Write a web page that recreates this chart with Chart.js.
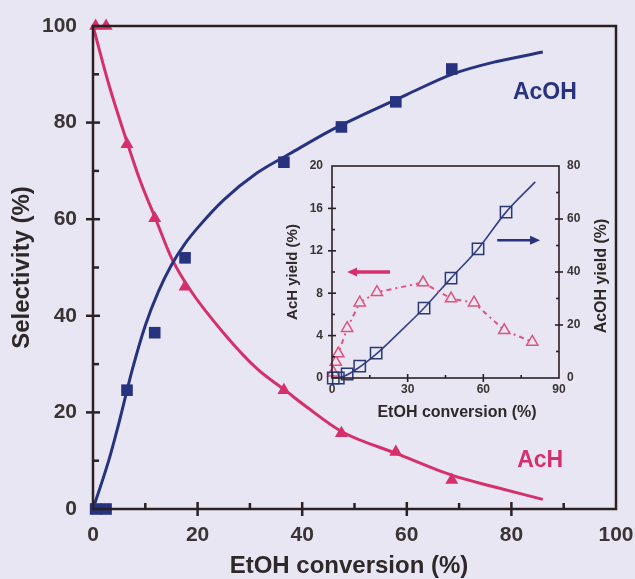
<!DOCTYPE html>
<html>
<head>
<meta charset="utf-8">
<script src="https://cdn.jsdelivr.net/npm/chart.js@4.4.0/dist/chart.umd.min.js"></script>
<style>
  html, body { margin: 0; padding: 0; background: #e7e6f2; }
  #wrap { position: relative; width: 635px; height: 579px; overflow: hidden; }
  #main { position: absolute; left: 0; top: 0; }
  #inset { position: absolute; left: 280px; top: 155px; }
</style>
</head>
<body>
<div id="wrap">
  <canvas id="main" width="635" height="579"></canvas>
  <canvas id="inset" width="340" height="270"></canvas>
</div>
<script>
/* ── Selectivity vs EtOH conversion, with yield inset ── */

// main plot: measured points
const mainConv = [0.5, 2.5, 6.5, 11.8, 17.6, 36.5, 47.5, 57.9, 68.6];
const acohSel  = [0, 0, 24.6, 36.5, 52.0, 71.8, 79.1, 84.3, 91.1];
const achSel   = [100, 100, 75.5, 60.2, 46.0, 24.6, 15.7, 11.8, 6.0];

// main plot: fitted curves as drawn
const acohFitX = [0, 3, 5, 7.5, 10, 12.5, 15, 17.5, 20, 25, 31.4, 37.7, 45.3, 52.4, 60, 68.6, 77, 86];
const acohFitY = [0, 10, 18, 28.8, 38, 45, 50.5, 54.8, 58.2, 64, 69.6, 73.6, 78.3, 82, 85.8, 90, 92.6, 94.6];
const achFitX  = [0, 3, 6.5, 9, 12, 15, 18.5, 25, 31.4, 36.7, 41, 47.6, 58, 68.6, 77, 86];
const achFitY  = [100, 88, 76, 68, 60, 52, 45.5, 36.4, 29, 24.6, 21, 16, 11.5, 7, 4.5, 2];

const mainXTicks = [0, 20, 40, 60, 80, 100];
const mainYTicks = [0, 20, 40, 60, 80, 100];

// inset: yields
const insetConv    = [0.5, 2.5, 6, 11, 17.5, 36.5, 47.2, 57.9, 69];
const insetAcoh    = [0, 0, 1.5, 4.5, 9.4, 26.4, 37.7, 48.7, 62.6];
const acohYieldFitX = [0, 5, 10, 17.5, 27, 36.5, 47.2, 57.9, 69, 80.6];
const acohYieldFitY = [0, 0.8, 3.5, 9, 17.5, 26.4, 37.7, 48.7, 62.6, 74];
const insetAchConv = [0.5, 1.5, 2.5, 6, 11, 17.8, 36.1, 47.2, 56.3, 68.3, 79.4];
const insetAch     = [0.5, 1.5, 2.3, 4.7, 7.1, 8.1, 9.0, 7.5, 7.1, 4.5, 3.4];

const insetXTicks  = [0, 30, 60, 90];
const insetYTicks  = [0, 4, 8, 12, 16, 20];
const insetY2Ticks = [0, 20, 40, 60, 80];

const NAVY = '#27337e';
const PINK = '#d6306c';
const PINK_LIGHT = '#e0527f';
const AXIS = '#2b2124';
const LABEL = '#3a3435';
const BG = '#e7e6f2';
const FONT = "'Liberation Sans', Arial, sans-serif";

const pts = (xs, ys) => xs.map((x, i) => ({ x, y: ys[i] }));
const fixTicks = list => s => { s.ticks = list.map(v => ({ value: v })); };
const fitW = w => s => { s.width = w; s.paddingTop = 0; s.paddingBottom = 0; };
const fitH = h => s => { s.height = h; s.paddingLeft = 0; s.paddingRight = 0; };

// box + crossing ticks, drawn from the scales
const frame = {
  id: 'frame',
  afterDraw(chart, _a, o) {
    const { ctx, chartArea: a, scales } = chart;
    ctx.save();
    ctx.strokeStyle = AXIS;
    ctx.lineWidth = o.width;
    ctx.strokeRect(a.left, a.top, a.right - a.left, a.bottom - a.top);
    o.axes.forEach(ax => {
      const s = scales[ax.id];
      const draw = (v, out, inn) => {
        const p = s.getPixelForValue(v);
        ctx.beginPath();
        if (ax.side === 'left')  { ctx.moveTo(a.left - out, p);  ctx.lineTo(a.left + inn, p); }
        if (ax.side === 'right') { ctx.moveTo(a.right - inn, p); ctx.lineTo(a.right + out, p); }
        if (ax.side === 'bottom'){ ctx.moveTo(p, a.bottom - inn); ctx.lineTo(p, a.bottom + out); }
        ctx.stroke();
      };
      ax.major.forEach(v => draw(v, o.out, o.inn));
      ax.minor.forEach(v => draw(v, 0, o.minor));
    });
    ctx.restore();
  }
};

// free text: data-anchored labels, or pixel-anchored titles
const words = {
  id: 'words',
  afterDraw(chart, _a, o) {
    const { ctx, scales } = chart;
    ctx.save();
    o.items.forEach(t => {
      ctx.fillStyle = t.color;
      ctx.font = t.font;
      ctx.textAlign = 'center';
      ctx.textBaseline = 'middle';
      if (t.px) {
        ctx.translate(t.px[0], t.px[1]);
        if (t.rot) ctx.rotate(-Math.PI / 2);
        ctx.fillText(t.text, 0, 0);
        ctx.setTransform(1, 0, 0, 1, 0, 0);
      } else {
        ctx.fillText(t.text, scales.x.getPixelForValue(t.x), scales[t.yId || 'y'].getPixelForValue(t.y));
      }
    });
    ctx.restore();
  }
};

const arrows = {
  id: 'arrows',
  afterDraw(chart, _a, o) {
    const { ctx, scales } = chart;
    ctx.save();
    o.items.forEach(ar => {
      const ys = scales[ar.yId];
      const x0 = scales.x.getPixelForValue(ar.from), x1 = scales.x.getPixelForValue(ar.to);
      const y = ys.getPixelForValue(ar.y);
      const dir = Math.sign(x1 - x0);
      ctx.strokeStyle = ar.color;
      ctx.fillStyle = ar.color;
      ctx.lineWidth = ar.width;
      ctx.beginPath();
      ctx.moveTo(x0, y);
      ctx.lineTo(x1 - dir * 8, y);
      ctx.stroke();
      ctx.beginPath();
      ctx.moveTo(x1, y);
      ctx.lineTo(x1 - dir * 10, y - 4.5);
      ctx.lineTo(x1 - dir * 10, y + 4.5);
      ctx.closePath();
      ctx.fill();
    });
    ctx.restore();
  }
};

new Chart(document.getElementById('main'), {
  type: 'scatter',
  data: {
    datasets: [
      { data: pts(mainConv, acohSel), pointStyle: 'rect', pointRadius: 8.2,
        backgroundColor: NAVY, borderColor: NAVY, borderWidth: 0, clip: false },
      { data: pts(mainConv, achSel), pointStyle: 'triangle', pointRadius: 7.5,
        backgroundColor: PINK, borderColor: PINK, borderWidth: 0, clip: false },
      { data: pts(acohFitX, acohFitY), showLine: true, pointRadius: 0,
        borderColor: NAVY, borderWidth: 3, cubicInterpolationMode: 'monotone', clip: false },
      { data: pts(achFitX, achFitY), showLine: true, pointRadius: 0,
        borderColor: PINK, borderWidth: 3, cubicInterpolationMode: 'monotone', clip: false },
    ],
  },
  options: {
    responsive: false,
    animation: false,
    events: [],
    layout: { padding: { top: 26, right: 19, left: 0, bottom: 0 } },
    plugins: {
      legend: { display: false },
      tooltip: { enabled: false },
      frame: {
        width: 2.5, out: 7, inn: 7, minor: 6,
        axes: [
          { id: 'x', side: 'bottom', major: [20, 40, 60, 80], minor: [10, 30, 50, 70, 90] },
          { id: 'y', side: 'left', major: [20, 40, 60, 80], minor: [10, 30, 50, 70, 90] },
        ],
      },
      words: {
        items: [
          { text: 'AcOH', x: 86.4, y: 86.3, color: NAVY, font: `bold 23px ${FONT}` },
          { text: 'AcH', x: 85.5, y: 10.1, color: PINK, font: `bold 23px ${FONT}` },
          { text: 'EtOH conversion (%)', px: [349, 566], color: '#2e2829', font: `bold 24px ${FONT}` },
        ],
      },
    },
    scales: {
      x: {
        type: 'linear', min: 0, max: 100,
        afterBuildTicks: fixTicks(mainXTicks),
        afterFit: fitH(70),
        grid: { display: false, drawTicks: false },
        border: { display: false },
        ticks: { color: LABEL, padding: 14, font: { family: FONT, size: 21, weight: 'bold' } },
      },
      y: {
        type: 'linear', min: 0, max: 100,
        afterBuildTicks: fixTicks(mainYTicks),
        afterFit: fitW(93),
        grid: { display: false, drawTicks: false },
        border: { display: false },
        ticks: { color: LABEL, padding: 16, font: { family: FONT, size: 21, weight: 'bold' } },
        title: { display: true, text: 'Selectivity (%)', color: '#2e2829',
                 padding: { top: 10, bottom: 0 }, font: { family: FONT, size: 24, weight: 'bold', lineHeight: 1 } },
      },
    },
  },
  plugins: [frame, words],
});

new Chart(document.getElementById('inset'), {
  type: 'scatter',
  data: {
    datasets: [
      { data: pts(insetConv, insetAcoh), yAxisID: 'y2', pointStyle: 'rect', pointRadius: 8,
        backgroundColor: 'rgba(0,0,0,0)', borderColor: '#2c3870', pointBorderWidth: 1.5, clip: false },
      { data: pts(insetAchConv, insetAch), yAxisID: 'y', showLine: true, pointStyle: 'triangle', pointRadius: 6.5,
        pointBackgroundColor: BG, pointBorderColor: PINK_LIGHT, pointBorderWidth: 1.5,
        borderColor: PINK_LIGHT, borderWidth: 2, borderDash: [5, 4, 2, 4], clip: false },
      { data: pts(acohYieldFitX, acohYieldFitY), yAxisID: 'y2', showLine: true, pointRadius: 0,
        borderColor: '#34408a', borderWidth: 1.6, cubicInterpolationMode: 'monotone', clip: false },
    ],
  },
  options: {
    responsive: false,
    animation: false,
    events: [],
    layout: { padding: { top: 11, right: 0, left: 0, bottom: 0 } },
    plugins: {
      legend: { display: false },
      tooltip: { enabled: false },
      frame: {
        width: 1.6, out: 4, inn: 4, minor: 3,
        axes: [
          { id: 'x', side: 'bottom', major: [30, 60], minor: [15, 45, 75] },
          { id: 'y', side: 'left', major: [4, 8, 12, 16], minor: [2, 6, 10, 14, 18] },
          { id: 'y2', side: 'right', major: [20, 40, 60], minor: [10, 30, 50, 70] },
        ],
      },
      arrows: {
        items: [
          { from: 23, to: 6, y: 10, yId: 'y', color: PINK, width: 3.5 },
          { from: 65.5, to: 82.5, y: 52, yId: 'y2', color: NAVY, width: 2.5 },
        ],
      },
      words: {
        items: [
          { text: 'AcOH yield (%)', px: [322, 121], rot: true, color: '#2e2829', font: `bold 16px ${FONT}` },
          { text: 'EtOH conversion (%)', px: [177, 258], color: '#2e2829', font: `bold 16px ${FONT}` },
        ],
      },
    },
    scales: {
      x: {
        type: 'linear', min: 0, max: 90,
        afterBuildTicks: fixTicks(insetXTicks),
        afterFit: fitH(47),
        grid: { display: false, drawTicks: false },
        border: { display: false },
        ticks: { color: LABEL, padding: 4, font: { family: FONT, size: 12, weight: 'bold' } },
      },
      y: {
        type: 'linear', position: 'left', min: 0, max: 20,
        afterBuildTicks: fixTicks(insetYTicks),
        afterFit: fitW(52),
        grid: { display: false, drawTicks: false },
        border: { display: false },
        ticks: { color: LABEL, padding: 9, font: { family: FONT, size: 12, weight: 'bold' } },
        title: { display: true, text: 'AcH yield (%)', color: '#2e2829',
                 padding: { top: 5, bottom: 0 }, font: { family: FONT, size: 15, weight: 'bold', lineHeight: 1 } },
      },
      y2: {
        type: 'linear', position: 'right', min: 0, max: 80,
        afterBuildTicks: fixTicks(insetY2Ticks),
        afterFit: fitW(61),
        grid: { display: false, drawTicks: false },
        border: { display: false },
        ticks: { color: LABEL, padding: 8, font: { family: FONT, size: 12, weight: 'bold' } },
      },
    },
  },
  plugins: [frame, arrows, words],
});
</script>
</body>
</html>
